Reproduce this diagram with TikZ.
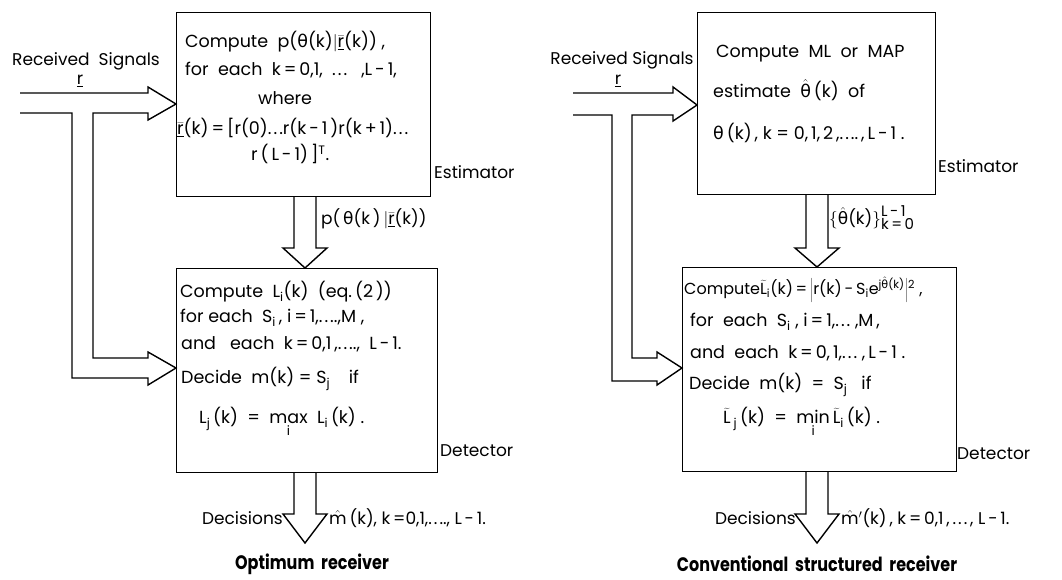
\documentclass[tikz,border=0pt]{standalone}
\usepackage[no-math]{fontspec}
\setmainfont{Poppins}
\newfontfamily\grk{DejaVu Sans}
\usetikzlibrary{calc}
\newcommand{\thh}{\hbox{\grk θ}}
\newcommand{\rvec}{\underline{$\bar{\hbox{r}}$}}
\newcommand{\acc}[2]{$#1{\hbox{#2}}$}
\newcommand{\dts}{.\kern2pt.\kern2pt.}
\newcommand{\sbs}[1]{\textsubscript{#1}}
\newcommand{\sps}[1]{\textsuperscript{#1}}
\newcommand{\undr}[2]{$\mathop{\hbox{#1}}\limits_{\hbox{\fontsize{13}{13}\selectfont #2}}$}
\tikzset{
  box/.style={draw, line width=1.4pt, inner sep=0pt, anchor=north west},
  txt/.style={anchor=mid west, inner sep=0pt, font=\fontsize{17.5}{20}\selectfont},
  lbl/.style={inner sep=0pt, font=\fontsize{17}{20}\selectfont},
  blk/.style={draw, line width=1.4pt, line join=miter},
  ttl/.style={inner sep=0pt, font=\fontsize{19.5}{23}\selectfont\bfseries},
}
\begin{document}
\begin{tikzpicture}[x=1pt, y=-1pt]
\useasboundingbox (0,0) rectangle (1062,579);
% ---------------- left panel ----------------
\node[box, minimum width=254pt, minimum height=184pt] (estL) at (176,12) {};
\node[box, minimum width=261pt, minimum height=204pt] (detL) at (176,268) {};
\node[lbl, anchor=mid] (rsL) at (86,63) {Received\ \ Signals};
\node[lbl, anchor=mid] (rL) at (80,82) {\underline{r}};
\node[txt] (eL1) at (185,45) {Compute\ \ p(\thh(k)$\Big|$\rvec(k)) ,};
\node[txt] (eL2) at (185,73) {for\ \ each\ \ k\,=\,0,1,\ \ \dts\ \ \ ,L\,-\,1,};
\node[txt] (eL3) at (258,102) {where};
\node[txt] (eL4) at (177,132) {\rvec(k)\,=\,[r(0)\dts r(k\,-\,1\,)r(k\,+\,1)\dts};
\node[txt] (eL5) at (251,158) {r\,(\,L\,-\,1)\,]\sps{T}.};
\node[lbl, anchor=mid west] (estLl) at (434,176) {Estimator};
\node[lbl, anchor=mid west] (pL) at (321,222) {p(\,\thh(k\,)\,$\Big|$\rvec(k))};
\node[txt] (dL1) at (180,295) {Compute\ \ L\sbs{i}(k)\ \ (eq.\,(2\,))};
\node[txt] (dL2) at (180,320) {for\ each\ \ S\sbs{i}\,,\ i\,=\,1,\dts.,M\ ,};
\node[txt] (dL3) at (181,347) {and\ \ \ each\ \ k\,=\,0,1\,,\dts.,\ \ L\,-\,1.};
\node[txt] (dL4) at (181,381) {Decide\ \ m(k)\ =\ S\sbs{j}\ \ \ \ if};
\node[txt] (dL5) at (199,421) {L\sbs{j}\,(k)\ \ =\ \ \undr{max}{i}\ \ L\sbs{i}\,(k)\ .};
\node[lbl, anchor=mid west] (detLl) at (440,454) {Detector};
\node[lbl, anchor=mid east] (decL) at (283,522) {Decisions};
\node[lbl, anchor=mid west] (mL) at (329,522) {\acc{\hat}{m}\,(k), k\,=0,1,\dts., L\,-\,1.};
\node[ttl] (tL) at (312,564) {\scalebox{0.82}[1]{Optimum\ \ receiver}};
% left input arrows
\draw[blk] (20,93) -- (148,93) -- (148,87) -- (estL.west |- 0,104) -- (148,120) -- (148,113)
  -- (93,113) -- (93,358) -- (148,358) -- (148,352) -- (detL.west |- 0,368) -- (148,385)
  -- (148,378) -- (72,378) -- (72,113) -- (20,113);
% left estimator -> detector
\draw[blk] (294,196) -- (294,248) -- (283,248) -- (detL.north -| 305,0) -- (327,248) -- (316,248) -- (316,196);
% left decisions
\draw[blk] (294,472) -- (294,514) -- (283,514) -- (305,543) -- (327,514) -- (316,514) -- (316,472);
% ---------------- right panel ----------------
\node[box, minimum width=238pt, minimum height=182pt] (estR) at (697,12) {};
\node[box, minimum width=274pt, minimum height=204pt] (detR) at (682,267) {};
\node[lbl, anchor=mid] (rsR) at (622,62) {Received Signals};
\node[lbl, anchor=mid] (rR) at (618,82) {\underline{r}};
\node[txt] (eR1) at (716,55) {Compute\ \ ML\ \ or\ \ MAP};
\node[txt] (eR2) at (713,95) {estimate\ \ $\hat{\thh}$\,(k)\ \ of};
\node[txt] (eR3) at (713,137) {\thh\,(k)\,,\ k\ =\ 0,\,1,\,2\,,\dts.\,,\,L\,-\,1\ .};
\node[lbl, anchor=mid west] (estRl) at (938,170) {Estimator};
\node[lbl, anchor=mid west] (thR) at (829,222) {$\Big\{\hat{\thh}\hbox{(k)}\Big\}^{\hbox{\fontsize{15}{15}\selectfont L\,-\,1}}_{\hbox{\fontsize{15}{15}\selectfont k\,=\,0}}$};
\node[txt, font=\fontsize{16}{19}\selectfont] (dR1) at (684,292) {Compute$\widetilde{\hbox{L}}$\sbs{i}(k)\,=\,$\bigg|$r(k)\,-\,S\sbs{i}e\sps{j$\hat{\hbox{\grk θ}}$(k)}$\bigg|$\sps{2}\ ,};
\node[txt] (dR2) at (690,324) {for\ \ each\ \ S\sbs{i}\ ,\ i\,=\,1,\dts\ ,M\,,};
\node[txt] (dR3) at (690,356) {and\ \ each\ \ k\,=\,0,\,1,\dts\ ,\,L\,-\,1\ .};
\node[txt] (dR4) at (689,387) {Decide\ \ m(k)\ \ =\ \ S\sbs{j}\ \ \ if};
\node[txt] (dR5) at (723,421) {$\widetilde{\hbox{L}}$\,\sbs{j}\,(k)\ \ =\ \ \undr{min}{i}\,$\widetilde{\hbox{L}}$\sbs{i}\,(k)\ .};
\node[lbl, anchor=mid west] (detRl) at (957,457) {Detector};
\node[lbl, anchor=mid east] (decR) at (796,522) {Decisions};
\node[lbl, anchor=mid west] (mR) at (841,522) {\acc{\hat}{m}$'$(k)\,, k\,=\,0,1\,,\,\dts\,, L\,-\,1.};
\node[ttl] (tR) at (817,564) {\scalebox{0.82}[1]{Conventional\ \ structured\ \ receiver}};
% right input arrows
\draw[blk] (573,93) -- (673,93) -- (673,87) -- (estR.west |- 0,105) -- (673,121) -- (673,115)
  -- (632,115) -- (632,358) -- (657,358) -- (657,352) -- (detR.west |- 0,368) -- (657,385)
  -- (657,381) -- (612,381) -- (612,115) -- (573,115);
% right estimator -> detector
\draw[blk] (806,194) -- (806,248) -- (795,248) -- (detR.north -| 817,0) -- (839,248) -- (828,248) -- (828,194);
% right decisions
\draw[blk] (806,471) -- (806,514) -- (795,514) -- (817,543) -- (839,514) -- (828,514) -- (828,471);
\end{tikzpicture}
\end{document}
